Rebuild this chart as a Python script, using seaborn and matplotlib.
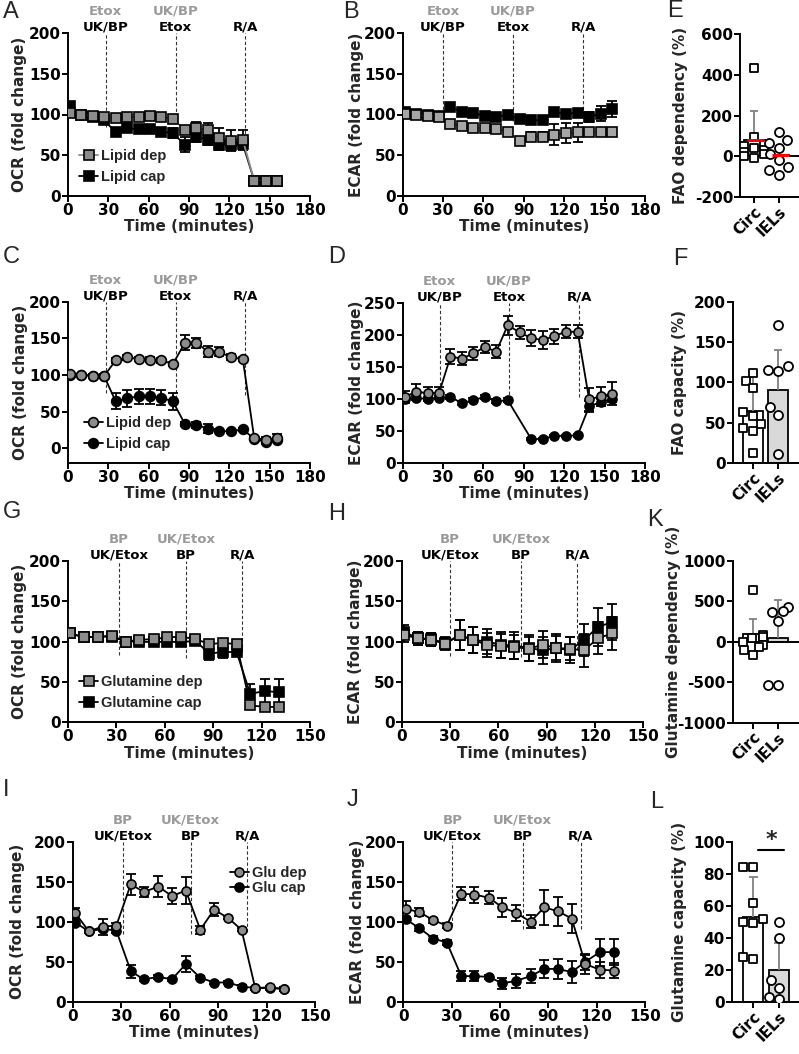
import numpy as np
import pandas as pd
import seaborn as sns
import matplotlib.pyplot as plt

sns.set_theme(style='ticks')
plt.rcParams['font.family'] = ['DejaVu Sans']
plt.rcParams['font.weight'] = 'bold'
plt.rcParams['axes.labelweight'] = 'bold'
plt.rcParams['axes.unicode_minus'] = False

# ---- time courses, lipid experiments (A-D) ----
time_lipid = [1.5, 10, 18.5, 27, 35.5, 44, 52.5, 61, 69.5, 78, 87, 95.5, 104, 112.5, 121, 130, 138.5, 147, 155.5]
time_lipid_d_cap = [1.5, 10, 18.5, 27, 35.5, 44, 52.5, 61, 69.5, 78, 95.5, 104, 112.5, 121, 130, 138.5, 147, 155.5]

a_dep = [102, 100, 98, 97, 96, 97, 97, 98, 97, 95, 81, 83, 81, 71, 68, 69, 19, 19, 19]
a_dep_err = [2, 2, 2, 2, 2, 2, 2, 2, 2, 2, 4, 8, 8, 13, 13, 12, 2, 2, 2]
a_cap = [110, 100, 97, 93, 78, 83, 82, 82, 79, 77, 63, 73, 69, 63, 63, 64, 19, 19, 19]
a_cap_err = [3, 2, 2, 3, 4, 4, 4, 5, 5, 6, 9, 7, 6, 6, 7, 5, 2, 2, 2]

b_dep = [101, 100, 98, 97, 88, 86, 84, 83, 82, 79, 68, 73, 73, 75, 77, 78, 79, 79, 79]
b_dep_err = [2, 2, 2, 2, 3, 3, 3, 3, 3, 3, 4, 5, 5, 13, 12, 12, 3, 3, 3]
b_cap = [103, 101, 99, 98, 109, 103, 102, 98, 97, 100, 94, 93, 93, 103, 101, 102, 97, 101, 107]
b_cap_err = [2, 2, 2, 2, 3, 2, 2, 3, 3, 3, 4, 3, 4, 5, 4, 3, 6, 9, 10]

c_dep = [102, 100, 99, 99, 120, 124, 122, 121, 120, 115, 144, 144, 132, 132, 124, 122, 14, 12, 14]
c_dep_err = [2, 2, 2, 2, 3, 3, 3, 3, 3, 3, 10, 7, 8, 6, 4, 3, 3, 3, 6]
c_cap = [100, 100, 99, 98, 64, 68, 71, 71, 69, 64, 33, 32, 27, 24, 23, 26, 13, 9, 12]
c_cap_err = [2, 2, 2, 2, 11, 12, 10, 10, 10, 12, 3, 4, 6, 2, 2, 2, 2, 3, 2]

d_dep = [103, 111, 109, 109, 166, 163, 171, 181, 174, 215, 204, 195, 192, 198, 205, 205, 99, 104, 108]
d_dep_err = [10, 12, 10, 10, 12, 10, 10, 10, 10, 15, 10, 12, 14, 12, 10, 10, 18, 15, 18]
d_cap = [100, 101, 100, 102, 103, 93, 98, 103, 96, 98, 37, 37, 42, 42, 43, 88, 95, 100]
d_cap_err = [3, 3, 3, 3, 3, 3, 3, 3, 3, 3, 2, 2, 2, 2, 2, 8, 5, 5]

# ---- time courses, glutamine experiments (G-J) ----
time_gln = [1.5, 10, 18.5, 27, 36, 44, 53, 61.5, 70, 79, 87.5, 96, 104.5, 113, 122, 130.5]

g_dep = [110, 105, 106, 107, 100, 102, 103, 105, 106, 103, 97, 98, 97, 21, 19, 19]
g_dep_err = [2, 2, 2, 2, 2, 2, 2, 2, 2, 2, 3, 3, 3, 3, 3, 3]
g_cap = [110, 105, 106, 106, 100, 100, 99, 100, 99, 101, 85, 87, 87, 35, 39, 37]
g_cap_err = [2, 2, 2, 2, 2, 2, 2, 2, 2, 2, 8, 8, 5, 13, 15, 16]

h_dep = [108, 104, 102, 97, 108, 102, 96, 94, 93, 91, 96, 92, 91, 89, 104, 110]
h_dep_err = [8, 8, 8, 7, 18, 16, 15, 15, 15, 15, 17, 15, 14, 20, 20, 20]
h_cap = [112, 104, 103, 98, 108, 102, 100, 96, 95, 92, 89, 92, 89, 102, 118, 124]
h_cap_err = [8, 8, 8, 7, 18, 16, 16, 16, 17, 16, 17, 17, 16, 20, 24, 22]

i_dep = [111, 88, 94, 95, 147, 137, 144, 132, 139, 90, 115, 105, 90, 17, 18, 16]
i_dep_err = [6, 2, 10, 3, 13, 6, 13, 10, 17, 5, 8, 2, 2, 2, 2, 2]
i_cap = [99, 88, 91, 89, 38, 28, 31, 28, 47, 30, 24, 24, 19, 17, 17, 16]
i_cap_err = [4, 2, 3, 3, 8, 2, 2, 2, 10, 2, 2, 2, 2, 2, 2, 2]

j_dep = [116, 112, 102, 95, 135, 134, 130, 118, 111, 100, 118, 113, 104, 47, 40, 39]
j_dep_err = [10, 5, 3, 3, 8, 10, 8, 12, 10, 8, 22, 18, 18, 12, 10, 9]
j_cap = [103, 92, 79, 74, 32, 32, 31, 23, 26, 32, 41, 41, 37, 50, 62, 62]
j_cap_err = [3, 3, 3, 3, 6, 6, 3, 7, 9, 9, 11, 13, 14, 10, 17, 16]

# ---- injections ----
lipid_black = ['UK/BP', 'Etox', 'R/A']
lipid_gray = ['Etox', 'UK/BP', '']
gln_black = ['UK/Etox', 'BP', 'R/A']
gln_gray = ['BP', 'UK/Etox', '']

# ---- bar panels ----
groups = ['Circ', 'IELs']
e_circ = [435, 95, 60, 50, 40, 30, 20, 10, 0, -10]
e_iels = [117, 78, 65, 40, 10, -20, -55, -68, -90]
e_mean = [78, 5]
e_sd = [142, 0]

f_circ = [112, 102, 93, 63, 59, 48, 44, 40, 12]
f_iels = [171, 120, 115, 114, 70, 60, 11]
f_mean = [65, 91]
f_sd = [48, 49]

k_circ = [640, 80, 60, 40, 0, -40, -60, -100, -165]
k_iels = [430, 380, 370, 260, -530, -530]
k_mean = [90, 50]
k_sd = [190, 465]

l_circ = [84, 84, 62, 52, 50, 49, 28, 27]
l_iels = [50, 40, 14, 9, 3, 2]
l_mean = [53, 20]
l_sd = [25, 17]

W, H = 799, 1054
fig = plt.figure(figsize=(W / 100, H / 100), dpi=100)

GRAY = '#8c8c8c'
LEG_FONT = {'family': 'Liberation Sans', 'weight': 'bold', 'size': 10.5}


def make_ax(left, right, top, bottom):
    return fig.add_axes([left / W, 1 - bottom / H, (right - left) / W, (bottom - top) / H])


def style_ax(ax):
    sns.despine(ax=ax)
    for sp in ['left', 'bottom']:
        ax.spines[sp].set_linewidth(1.4)
        ax.spines[sp].set_color('black')
    ax.tick_params(width=1.4, length=4, pad=1, labelsize=11, colors='black')


def time_panel(ax, t_dep, dep, dep_err, t_cap, cap, cap_err, marker, labels, xmax, ylim,
               ylabel, ylabel_x, drug_x, drug_bottom, black_lbl, gray_lbl,
               dep_face=GRAY, dep_line='black', ms=7, legend=None):
    for x, yb, tb, tg in zip(drug_x, drug_bottom, black_lbl, gray_lbl):
        ax.plot([x, x], [yb, ylim[1]], ls=(0, (3, 2)), lw=0.8, color='#333333', zorder=1, clip_on=False)
        ax.annotate(tb, xy=(x, 1), xycoords=('data', 'axes fraction'), xytext=(0, 1.5),
                    textcoords='offset points', ha='center', va='baseline', fontsize=9.5, color='black')
        if tg:
            ax.annotate(tg, xy=(x, 1), xycoords=('data', 'axes fraction'), xytext=(0, 13),
                        textcoords='offset points', ha='center', va='baseline', fontsize=9.5, color='#9a9a9a')
    ax.errorbar(t_cap, cap, yerr=cap_err, fmt='none', ecolor='black', elinewidth=1.3,
                capsize=3.5, capthick=1.3, zorder=2)
    h_cap, = ax.plot(t_cap, cap, marker=marker, color='black', mfc='black', mec='black', ms=ms,
                     mew=1.2, lw=1.3, label=labels[1], zorder=3)
    ax.errorbar(t_dep, dep, yerr=dep_err, fmt='none', ecolor='black', elinewidth=1.3,
                capsize=3.5, capthick=1.3, zorder=4)
    h_dep, = ax.plot(t_dep, dep, marker=marker, color=dep_line, mfc=dep_face, mec='black', ms=ms,
                     mew=1.2, lw=1.3, label=labels[0], zorder=5)
    ax.set_xlim(0, xmax)
    ax.set_xticks(np.arange(0, xmax + 1, 30))
    ax.set_ylim(*ylim)
    ax.set_yticks(np.arange(0, ylim[1] + 1, 50))
    ax.set_xlabel('Time (minutes)', fontsize=11, labelpad=1)
    ax.set_ylabel(ylabel, fontsize=11)
    ax.yaxis.set_label_coords(ylabel_x, 0.5)
    style_ax(ax)
    if legend is not None:
        ax.legend([h_dep, h_cap], labels, frameon=False, prop=LEG_FONT, handlelength=1.3,
                  handletextpad=0.2, borderpad=0.1, **legend)


def bar_panel(ax, circ, iels, means, sds, fill, ylim, yticks, ylabel, ylabel_x, xlim, zero_line=False):
    pts = pd.DataFrame({'group': ['Circ'] * len(circ) + ['IELs'] * len(iels),
                        'value': circ + iels})
    bars = pd.DataFrame({'group': groups, 'value': means})
    sns.barplot(data=bars, x='group', y='value', hue='group', order=groups, palette=['white', fill],
                legend=False, edgecolor='black', linewidth=1.3, width=0.8, errorbar=None, ax=ax)
    tops = [m + s for m, s in zip(means, sds)]
    for xi, (m, tp, s) in enumerate(zip(means, tops, sds)):
        if s > 0:
            ax.vlines(xi, m, tp, color='#808080', lw=1.3, zorder=1.5)
            ax.hlines(tp, xi - 0.17, xi + 0.17, color='#808080', lw=1.3, zorder=1.5)
    sns.swarmplot(data=pts[pts.group == 'Circ'], x='group', y='value', order=groups, marker='s',
                  size=6, color='white', edgecolor='black', linewidth=1.3, ax=ax, zorder=3)
    sns.swarmplot(data=pts[pts.group == 'IELs'], x='group', y='value', order=groups, marker='o',
                  size=6.5, color='white', edgecolor='black', linewidth=1.3, ax=ax, zorder=3)
    if zero_line:
        ax.axhline(0, color='black', lw=1.4, zorder=2)
    ax.set_xlim(*xlim)
    ax.set_ylim(*ylim)
    ax.set_yticks(yticks)
    ax.set_xticks([0, 1])
    ax.set_xticklabels(groups, rotation=45, ha='right', rotation_mode='anchor')
    ax.set_xlabel('')
    ax.set_ylabel(ylabel, fontsize=11)
    ax.yaxis.set_label_coords(ylabel_x, 0.5)
    style_ax(ax)


# ---- row 1 ----
ax_a = make_ax(68, 310, 33, 196)
time_panel(ax_a, time_lipid, a_dep, a_dep_err, time_lipid, a_cap, a_cap_err, 's',
           ['Lipid dep', 'Lipid cap'], 180, (0, 200), 'OCR (fold change)', -0.17,
           [28, 80, 132], [85, 97, 70], lipid_black, lipid_gray, dep_line=GRAY,
           legend=dict(loc='lower left', bbox_to_anchor=(0.01, 0.02)))

ax_b = make_ax(402.7, 645, 33, 196)
time_panel(ax_b, time_lipid, b_dep, b_dep_err, time_lipid, b_cap, b_cap_err, 's',
           ['Lipid dep', 'Lipid cap'], 180, (0, 200), 'ECAR (fold change)', -0.16,
           [30, 82, 134], [100, 92, 100], lipid_black, lipid_gray, dep_face='#a6a6a6', dep_line='#a6a6a6')

ax_e = make_ax(740, 799, 34, 197)
bar_panel(ax_e, e_circ, e_iels, e_mean, e_sd, '#d9d9d9', (-200, 600), [-200, 0, 200, 400, 600],
          'FAO dependency (%)', -0.88, (-0.56, 1.8), zero_line=True)
ax_e.hlines(e_mean, [-0.3, 0.7], [0.4, 1.4], color='red', lw=2.2, zorder=4)

# ---- row 2 ----
ax_c = make_ax(68, 310, 301.7, 463)
time_panel(ax_c, time_lipid, c_dep, c_dep_err, time_lipid, c_cap, c_cap_err, 'o',
           ['Lipid dep', 'Lipid cap'], 180, (-20, 200), 'OCR (fold change)', -0.165,
           [28, 80, 132], [75, 61, 73], lipid_black, lipid_gray,
           legend=dict(loc='lower left', bbox_to_anchor=(0.03, 0.02)))

ax_d = make_ax(402.7, 645, 303, 462.7)
time_panel(ax_d, time_lipid, d_dep, d_dep_err, time_lipid_d_cap, d_cap, d_cap_err, 'o',
           ['Lipid dep', 'Lipid cap'], 180, (0, 250), 'ECAR (fold change)', -0.16,
           [27.5, 79, 131], [103, 98, 103], lipid_black, lipid_gray, ms=6.5)

ax_f = make_ax(733, 799, 302, 463)
bar_panel(ax_f, f_circ, f_iels, f_mean, f_sd, '#d9d9d9', (0, 200), [0, 50, 100, 150, 200],
          'FAO capacity (%)', -0.7, (-0.8, 1.84))

# ---- row 3 ----
ax_g = make_ax(68, 310, 560.7, 722.3)
time_panel(ax_g, time_gln, g_dep, g_dep_err, time_gln, g_cap, g_cap_err, 's',
           ['Glutamine dep', 'Glutamine cap'], 150, (0, 200), 'OCR (fold change)', -0.17,
           [31.5, 73, 108], [83, 80, 87], gln_black, gln_gray, ms=6.5,
           legend=dict(loc='lower left', bbox_to_anchor=(0.01, 0.02)))

ax_h = make_ax(401.7, 643.3, 560.7, 722.3)
time_panel(ax_h, time_gln, h_dep, h_dep_err, time_gln, h_cap, h_cap_err, 's',
           ['Glutamine dep', 'Glutamine cap'], 150, (0, 200), 'ECAR (fold change)', -0.16,
           [30, 74, 109], [82, 81, 89], gln_black, gln_gray, dep_face='#a6a6a6', ms=6.5)

ax_k = make_ax(732.7, 799, 560.7, 722.7)
bar_panel(ax_k, k_circ, k_iels, k_mean, k_sd, '#d9d9d9', (-1000, 1000), [-1000, -500, 0, 500, 1000],
          'Glutamine dependency (%)', -0.78, (-0.81, 1.84), zero_line=True)

# ---- row 4 ----
ax_i = make_ax(72.7, 315, 841.7, 1001.7)
time_panel(ax_i, time_gln, i_dep, i_dep_err, time_gln, i_cap, i_cap_err, 'o',
           ['Glu dep', 'Glu cap'], 150, (0, 200), 'OCR (fold change)', -0.197,
           [31, 73, 108], [85, 85, 87], gln_black, gln_gray, ms=6.5,
           legend=dict(loc='upper right', bbox_to_anchor=(1.0, 0.9), labelspacing=0.05))

ax_j = make_ax(403.3, 645, 841.7, 1001.7)
time_panel(ax_j, time_gln, j_dep, j_dep_err, time_gln, j_cap, j_cap_err, 'o',
           ['Glu dep', 'Glu cap'], 150, (0, 200), 'ECAR (fold change)', -0.16,
           [30.5, 74, 110], [95, 91, 91], gln_black, gln_gray, ms=6.5)

ax_l = make_ax(731.7, 799, 841.7, 1002)
bar_panel(ax_l, l_circ, l_iels, l_mean, l_sd, '#d9d9d9', (0, 100), [0, 20, 40, 60, 80, 100],
          'Glutamine capacity (%)', -0.66, (-0.85, 1.8))
ax_l.plot([0.2, 1.2], [95, 95], color='black', lw=1.5, clip_on=False)
ax_l.text(0.7, 95, '*', ha='center', va='bottom', fontsize=16)

# ---- panel letters ----
letters = [('A', 3, 1), ('B', 343, 1), ('E', 667, 0), ('C', 3, 246), ('D', 328, 246),
           ('F', 673, 248), ('G', 3, 501), ('H', 328, 503), ('K', 647, 509),
           ('I', 3, 779), ('J', 347, 789), ('L', 650, 791)]
for lt, px, py in letters:
    fig.text(px / W, 1 - py / H, lt, fontsize=17, fontweight='normal', family='Liberation Sans',
             ha='left', va='top')

fig.savefig('out.png', dpi=100)
